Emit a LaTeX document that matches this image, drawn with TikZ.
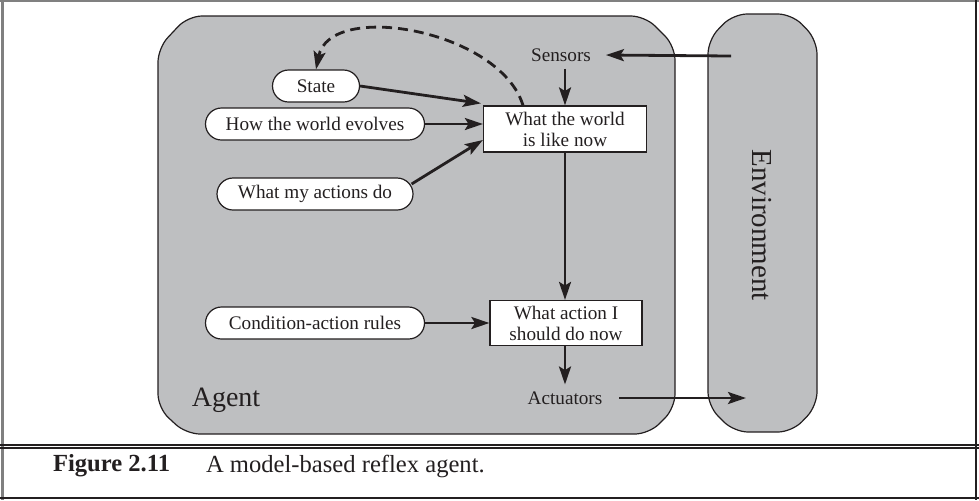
\documentclass[tikz,border=0pt]{standalone}
\usepackage{fontspec}
\setmainfont{Liberation Serif}
\usetikzlibrary{arrows.meta,positioning}

\definecolor{agentgray}{RGB}{190,191,193}
\definecolor{inkblack}{RGB}{35,31,32}

\tikzset{
  pill/.style={draw=inkblack, fill=white, rounded corners=8pt,
    minimum height=16pt, inner xsep=10pt, line width=0.6pt,
    text=inkblack, font=\fontsize{9.6}{11}\selectfont},
  wbox/.style={draw=inkblack, fill=white, line width=0.6pt, align=center,
    text=inkblack, inner sep=2pt, minimum height=23pt,
    font=\fontsize{9.6}{10.5}\selectfont},
  plain/.style={text=inkblack, font=\fontsize{9.6}{11}\selectfont},
  flow/.style={-{Stealth[length=9pt,width=6pt,inset=1.8pt]},
    line width=1.4pt, draw=inkblack},
  shell/.style={draw=inkblack, fill=agentgray, line width=0.6pt,
    rounded corners=7pt}
}

\begin{document}
\begin{tikzpicture}[x=0.5pt, y=-0.5pt]
    \useasboundingbox (0,0) rectangle (979,500);

    % figure frame
    \draw[gray, line width=1.5pt] (2,0) -- (2,500);
    \draw[gray, line width=0.8pt] (0,1) -- (979,1);
    \draw[inkblack, line width=0.8pt] (976,0) -- (976,500);
    \draw[inkblack, line width=0.8pt] (0,498) -- (979,498);
    \draw[inkblack, line width=0.6pt] (0,445) -- (979,445);
    \draw[inkblack, line width=0.6pt] (0,448) -- (979,448);

    % agent and environment
    \draw[shell] (158,48) -- (188,16) -- (645,16) -- (675,46)
      -- (675,408) -- (649,434) -- (186,434) -- (158,408) -- cycle;
    \draw[shell] (708,40) -- (733,14) -- (792,14) -- (817,40)
      -- (817,406) -- (792,432) -- (734,432) -- (708,406) -- cycle;

    \node[text=inkblack, font=\fontsize{14}{16}\selectfont] (agent) at (226,400) {Agent};
    \node[text=inkblack, font=\fontsize{14.5}{16}\selectfont, rotate=-90] (env) at (762,225) {Environment};

    % percepts and inner state
    \node[plain] (sensors) at (561,55) {Sensors};
    \node[wbox, minimum width=81.5pt] (wnow) at (565,129) {What the world\\is like now};
    \node[pill, minimum width=43.5pt] (state) at (316,86) {State};
    \node[pill, minimum width=109.5pt] (evolve) at (315,124) {How the world evolves};
    \node[pill, minimum width=98pt] (actdo) at (315,194) {What my actions do};

    % decision
    \node[wbox, minimum width=76pt, minimum height=22.5pt] (todo) at (566,323) {What action I\\should do now};
    \node[pill, minimum width=109.5pt] (rules) at (315,323) {Condition-action rules};
    \node[plain] (actuators) at (565,398) {Actuators};

    \coordinate (envin) at (731,56);
    \coordinate (envout) at (746,398);

    \draw[flow] (envin) -- ([xshift=4pt]sensors.east);
    \draw[flow] (sensors.south -| wnow.north) -- (wnow.north);
    \draw[flow] (state.east) -- ([xshift=-1pt,yshift=1pt]wnow.north west);
    \draw[flow] (evolve.east) -- (evolve.east -| wnow.west);
    \draw[flow] ([xshift=-1pt,yshift=5pt]actdo.east) -- ([yshift=-5.5pt]wnow.west);
    \draw[flow, dash pattern=on 5pt off 3pt]
      ([xshift=-21pt]wnow.north) .. controls (500,30) and (330,0) .. (state.north);
    \draw[flow] (wnow.south) -- (wnow.south |- todo.north);
    \draw[flow] (rules.east) -- (todo.west);
    \draw[flow] (todo.south -| wnow.south) -- (actuators.north -| wnow.south);
    \draw[flow] ([xshift=5pt]actuators.east) -- (envout);

    % caption
    \node[text=inkblack, font=\fontsize{12.3}{14}\selectfont\bfseries, anchor=west] (fig) at (46,466) {Figure 2.11};
    \node[text=inkblack, font=\fontsize{12.3}{14}\selectfont, anchor=west] (cap) at (199,466) {A model-based reflex agent.};
\end{tikzpicture}
\end{document}
